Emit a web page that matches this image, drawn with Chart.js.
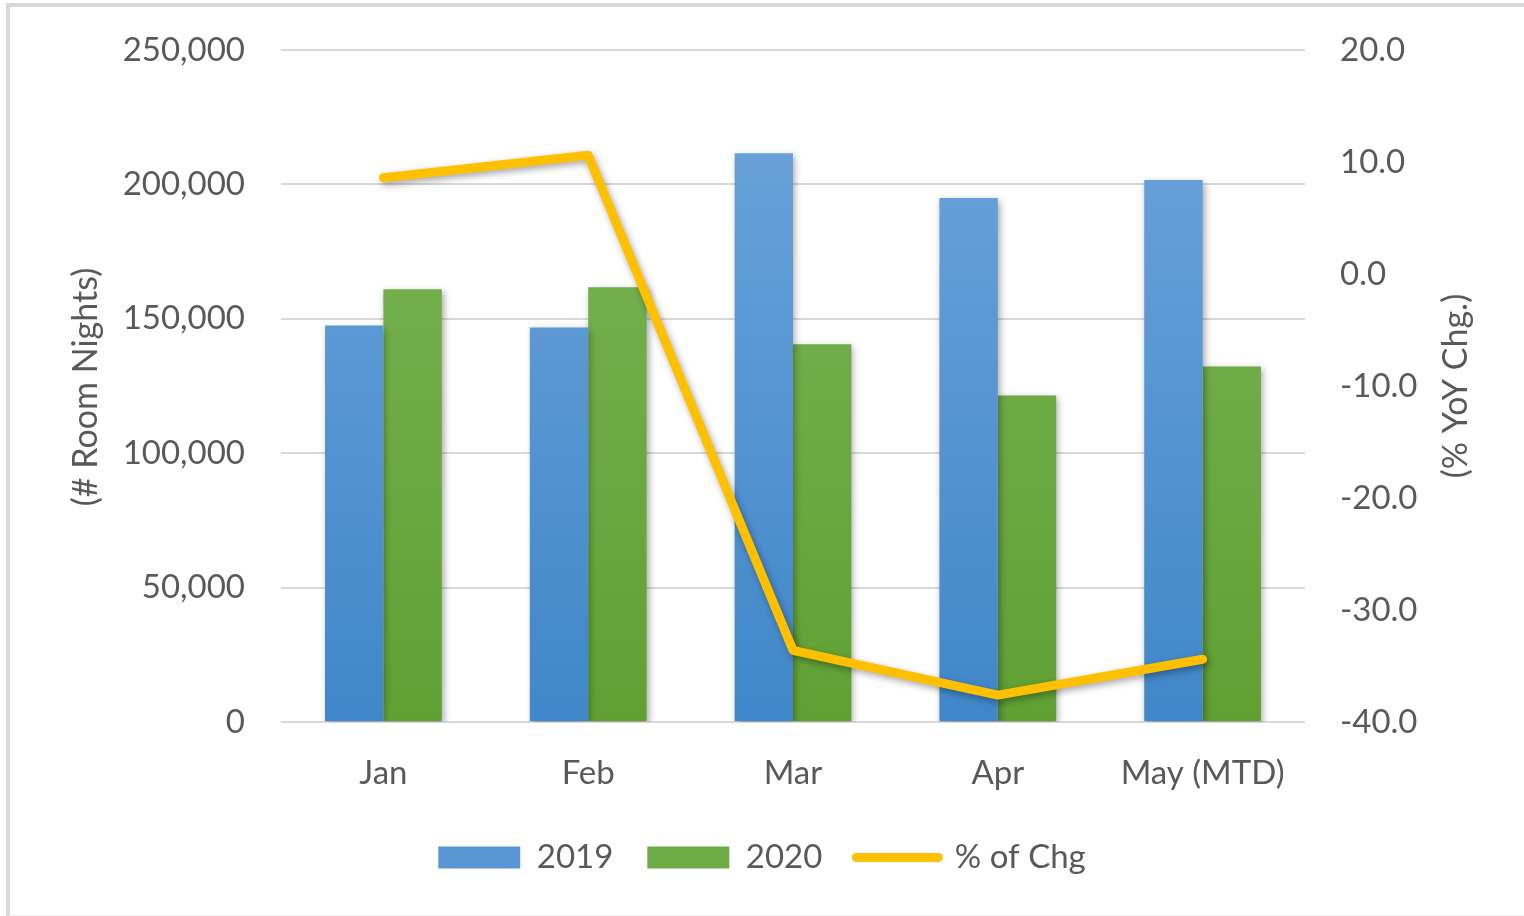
<!DOCTYPE html>
<html>
<head>
    <meta charset="utf-8" />
    <title>Room Nights 2019 vs 2020</title>
    <script src="https://cdn.jsdelivr.net/npm/chart.js@4.4.1/dist/chart.umd.min.js"></script>
    <style>
        html, body { margin: 0; padding: 0; background: #fff; }
        #wrap { position: relative; width: 1524px; height: 916px; overflow: hidden; }
        #frame {
            position: absolute; left: 6px; top: 3px; width: 1560px; height: 908px;
            border-left: 4px solid #d9d9d9; border-top: 4px solid #d9d9d9; border-bottom: 2px solid #eeeeee;
            pointer-events: none;
        }
        canvas { position: absolute; left: 0; top: 0; }
    </style>
</head>
<body>
<div id="wrap">
    <canvas id="myChart" width="1524" height="916"></canvas>
    <div id="frame"></div>
</div>

<script>
    // chart data
    var months = ['Jan', 'Feb', 'Mar', 'Apr', 'May (MTD)'];
    var nights2019 = [147500, 146800, 211600, 194900, 201600];
    var nights2020 = [161000, 161700, 140500, 121500, 132300];
    var pctChg = [8.6, 10.6, -33.6, -37.6, -34.4];

    var leftTicks = [0, 50000, 100000, 150000, 200000, 250000];
    var rightTicks = [-40, -30, -20, -10, 0, 10, 20];

    var textColor = '#595959';
    var fontFamily = 'Lato, "Open Sans", sans-serif';

    // vertical gradient over the chart area for the bars
    function barGradient(top, bottom) {
        return function (context) {
            var chart = context.chart;
            var area = chart.chartArea;
            if (!area) return bottom;
            var g = chart.ctx.createLinearGradient(0, area.top, 0, area.bottom);
            g.addColorStop(0, top);
            g.addColorStop(1, bottom);
            return g;
        };
    }

    // soft drop shadow like the office chart effect
    var shadowPlugin = {
        id: 'shadow',
        beforeDatasetDraw: function (chart) {
            var ctx = chart.ctx;
            ctx.save();
            ctx.shadowColor = 'rgba(0,0,0,0.35)';
            ctx.shadowBlur = 7;
            ctx.shadowOffsetX = 2;
            ctx.shadowOffsetY = 3;
        },
        afterDatasetDraw: function (chart) {
            chart.ctx.restore();
        }
    };

    // axis titles, both read bottom to top
    function drawTitle(ctx, text, x, y) {
        ctx.save();
        ctx.fillStyle = textColor;
        ctx.font = '34px ' + fontFamily;
        ctx.textAlign = 'center';
        ctx.textBaseline = 'middle';
        ctx.translate(x, y);
        ctx.rotate(-Math.PI / 2);
        ctx.fillText(text, 0, 0);
        ctx.restore();
    }

    var titlesPlugin = {
        id: 'axisTitles',
        afterDraw: function (chart) {
            drawTitle(chart.ctx, '(# Room Nights)', 86, 387);
            drawTitle(chart.ctx, '(% YoY Chg.)', 1456, 386);
        }
    };

    var ctx = document.getElementById('myChart').getContext('2d');
    var chart = new Chart(ctx, {
        type: 'bar',
        data: {
            labels: months,
            datasets: [{
                label: '2019',
                data: nights2019,
                backgroundColor: barGradient('#6fa5dc', '#4087c9'),
                legendColor: '#5a96d4',
                yAxisID: 'y',
                order: 1,
                categoryPercentage: 0.57,
                barPercentage: 1.0
            },
            {
                label: '2020',
                data: nights2020,
                backgroundColor: barGradient('#7db65b', '#60a033'),
                legendColor: '#6fab47',
                yAxisID: 'y',
                order: 1,
                categoryPercentage: 0.57,
                barPercentage: 1.0
            },
            {
                type: 'line',
                label: '% of Chg',
                data: pctChg,
                borderColor: '#ffc000',
                backgroundColor: '#ffc000',
                borderWidth: 9,
                borderCapStyle: 'round',
                borderJoinStyle: 'round',
                pointRadius: 0,
                pointStyle: 'line',
                tension: 0,
                yAxisID: 'y1',
                order: 0
            }]
        },
        options: {
            responsive: false,
            animation: false,
            layout: { padding: { top: 50, left: 0, right: 0, bottom: 32 } },
            plugins: {
                tooltip: { enabled: false },
                legend: {
                    position: 'bottom',
                    labels: {
                        color: textColor,
                        font: { family: fontFamily, size: 33 },
                        usePointStyle: true,
                        pointStyleWidth: 82,
                        boxHeight: 22,
                        padding: 34,
                        sort: function (a, b) { return a.datasetIndex - b.datasetIndex; },
                        generateLabels: function (chart) {
                            var items = Chart.defaults.plugins.legend.labels.generateLabels(chart);
                            items.forEach(function (it) {
                                var ds = chart.data.datasets[it.datasetIndex];
                                if (ds.type !== 'line') {
                                    it.pointStyle = 'rect';
                                    it.fillStyle = ds.legendColor;
                                    it.strokeStyle = ds.legendColor;
                                    it.lineWidth = 0;
                                } else {
                                    it.pointStyle = 'line';
                                    it.lineWidth = 9;
                                    it.lineCap = 'round';
                                }
                            });
                            return items;
                        }
                    }
                }
            },
            scales: {
                x: {
                    grid: { display: false },
                    border: { display: false },
                    ticks: {
                        color: textColor,
                        font: { family: fontFamily, size: 33 },
                        padding: 24,
                        maxRotation: 0
                    },
                    afterFit: function (scale) { scale.height = 85; }
                },
                y: {
                    position: 'left',
                    min: 0,
                    max: 250000,
                    afterBuildTicks: function (scale) {
                        scale.ticks = leftTicks.map(function (v) { return { value: v }; });
                    },
                    grid: { color: '#d9d9d9', lineWidth: 2, drawTicks: false },
                    border: { display: false },
                    ticks: {
                        color: textColor,
                        font: { family: fontFamily, size: 33 },
                        padding: 36,
                        callback: function (v) { return v.toLocaleString('en-US'); }
                    },
                    afterFit: function (scale) {
                        scale.width = 281;
                        scale.paddingTop = 0;
                        scale.paddingBottom = 0;
                    }
                },
                y1: {
                    position: 'right',
                    min: -40,
                    max: 20,
                    afterBuildTicks: function (scale) {
                        scale.ticks = rightTicks.map(function (v) { return { value: v }; });
                    },
                    grid: { display: false, drawTicks: false },
                    border: { display: false },
                    ticks: {
                        color: textColor,
                        font: { family: fontFamily, size: 33 },
                        padding: 35,
                        callback: function (v) { return v.toFixed(1); }
                    },
                    afterFit: function (scale) {
                        scale.width = 219;
                        scale.paddingTop = 0;
                        scale.paddingBottom = 0;
                    }
                }
            }
        },
        plugins: [shadowPlugin, titlesPlugin]
    });
</script>
</body>
</html>
